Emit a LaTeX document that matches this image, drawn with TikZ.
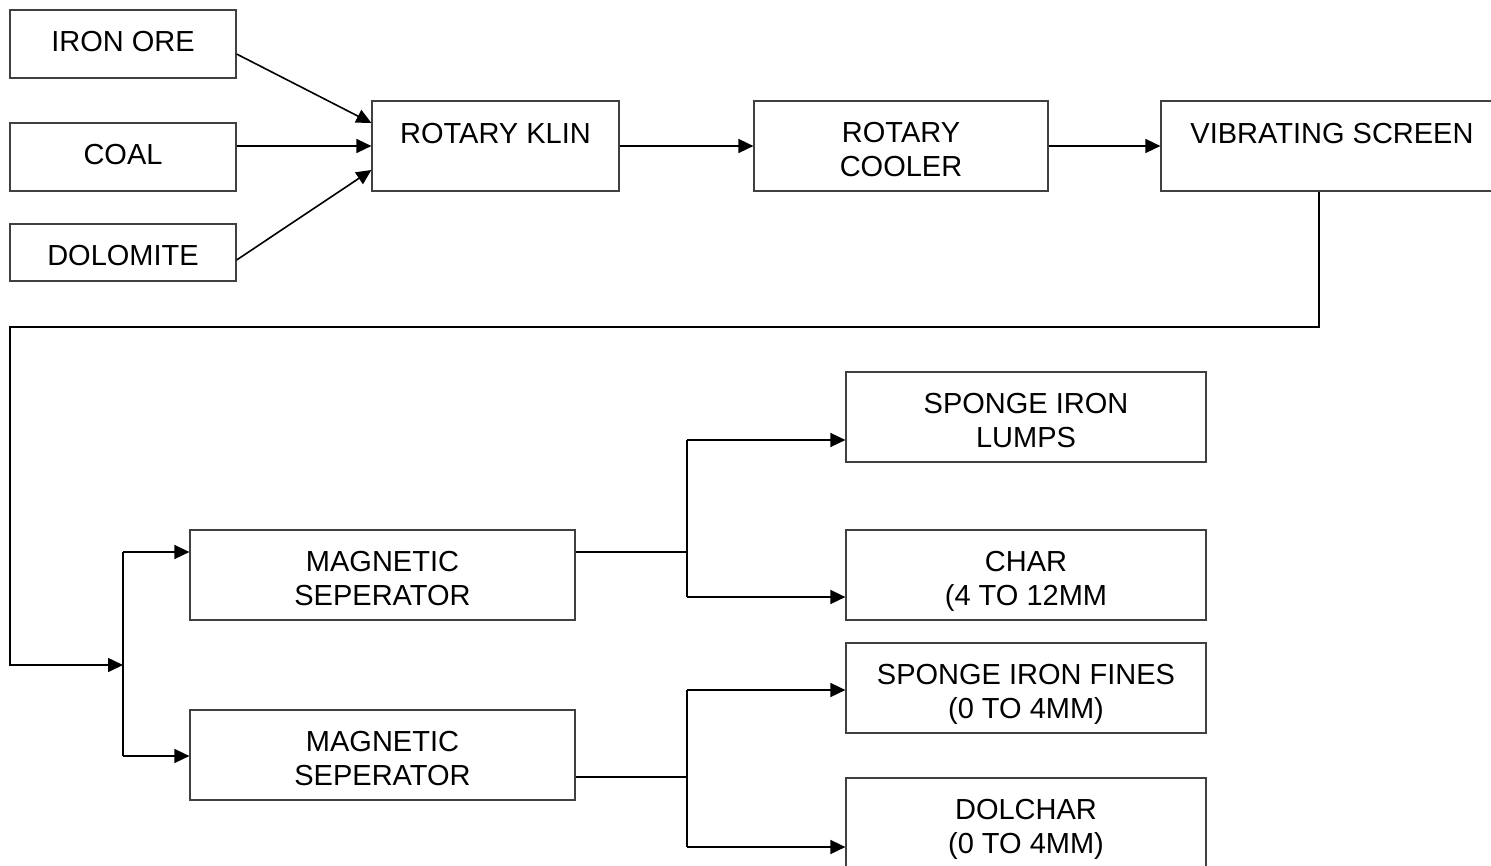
\documentclass[tikz,border=0pt]{standalone}
\usepackage{fontspec}
\setmainfont{Liberation Sans}
\usetikzlibrary{arrows.meta}
\begin{document}
\begin{tikzpicture}[x=1pt,y=-1pt,
  box/.style={draw=black!75,line width=1.2pt,rectangle,align=center,inner sep=0pt,
    font=\fontsize{29}{34}\selectfont},
  twoline/.style={box,text height=61pt,text depth=0pt},
  topline/.style={box,text depth=26pt},
  conn/.style={line width=1.6pt,black},
  arr/.style={conn,-{Triangle[length=15pt,width=14pt]}}]
\useasboundingbox (0,0) rectangle (1491,865);
% nodes
\node[box,text depth=5pt,minimum width=226pt,minimum height=68pt] (iron) at (123,44) {IRON ORE};
\node[box,text depth=5pt,minimum width=226pt,minimum height=68pt] (coal) at (123,157) {COAL};
\node[box,text height=26pt,minimum width=226pt,minimum height=57pt] (dolo) at (123,252.5) {DOLOMITE};
\node[topline,minimum width=247pt,minimum height=90pt] (klin) at (495.5,146) {ROTARY KLIN};
\node[twoline,minimum width=294pt,minimum height=90pt] (cooler) at (901,146) {ROTARY\\COOLER};
\node[topline,minimum width=342pt,minimum height=90pt] (vs) at (1332,146) {VIBRATING SCREEN};
\node[twoline,minimum width=385pt,minimum height=90pt] (ms1) at (382.5,575) {MAGNETIC\\SEPERATOR};
\node[twoline,minimum width=385pt,minimum height=90pt] (ms2) at (382.5,755) {MAGNETIC\\SEPERATOR};
\node[twoline,minimum width=360pt,minimum height=90pt] (lumps) at (1026,417) {SPONGE IRON\\LUMPS};
\node[twoline,minimum width=360pt,minimum height=90pt] (char) at (1026,575) {CHAR\\(4 TO 12MM};
\node[twoline,minimum width=360pt,minimum height=90pt] (fines) at (1026,688) {SPONGE IRON FINES\\(0 TO 4MM)};
\node[twoline,minimum width=360pt,minimum height=90pt] (dolchar) at (1026,823) {DOLCHAR\\(0 TO 4MM)};
% top connectors
\draw[arr] ([yshift=-10pt]iron.east) -- ([yshift=23pt]klin.west);
\draw[arr] ([yshift=11pt]coal.east) -- ([yshift=11pt]coal.east -| klin.west);
\draw[arr] ([yshift=-7.5pt]dolo.east) -- ([yshift=-24pt]klin.west);
\draw[arr] (klin.east) -- (cooler.west);
\draw[arr] (cooler.east) -- (vs.west);
% return line
\coordinate (t1) at (1319,327);
\coordinate (t2) at (10,327);
\coordinate (split) at (123,665);
\draw[arr] (vs.south -| t1) |- (t2) |- (split);
% fork to separators
\coordinate (f1) at (123,552);
\coordinate (f2) at (123,756);
\draw[conn] (f1) -- (f2);
\draw[arr] (f1) -- (f1 -| ms1.west);
\draw[arr] (f2) -- (f2 -| ms2.west);
% separator 1 outputs
\coordinate (j1) at (687,552);
\coordinate (a1) at (687,440);
\coordinate (a2) at (687,597);
\draw[conn] (ms1.east |- j1) -- (j1);
\draw[conn] (a1) -- (a2);
\draw[arr] (a1) -- (a1 -| lumps.west);
\draw[arr] (a2) -- (a2 -| char.west);
% separator 2 outputs
\coordinate (j2) at (687,777);
\coordinate (b1) at (687,690);
\coordinate (b2) at (687,847);
\draw[conn] (ms2.east |- j2) -- (j2);
\draw[conn] (b1) -- (b2);
\draw[arr] (b1) -- (b1 -| fines.west);
\draw[arr] (b2) -- (b2 -| dolchar.west);
\end{tikzpicture}
\end{document}
